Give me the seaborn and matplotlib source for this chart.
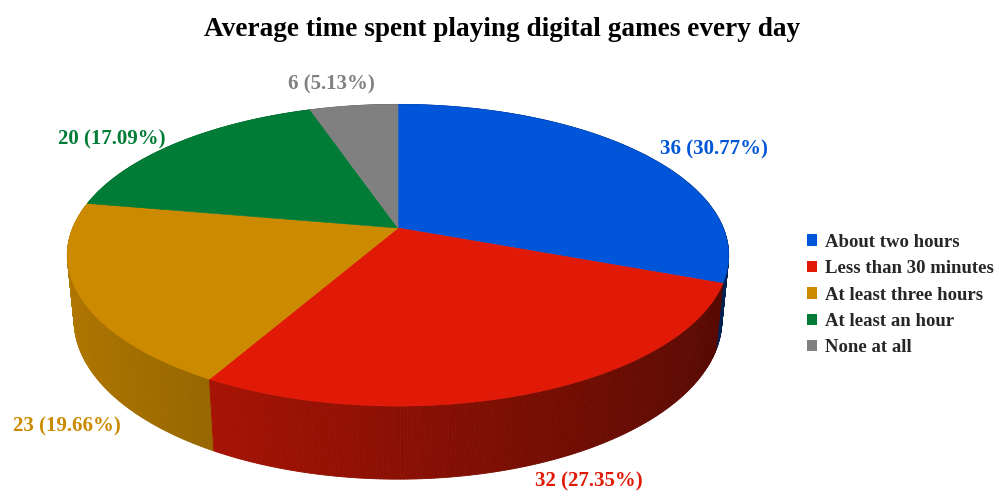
import numpy as np
import matplotlib
matplotlib.use("Agg")
import matplotlib.pyplot as plt
from matplotlib.collections import PolyCollection
from matplotlib.patches import Patch, Polygon
import seaborn as sns

categories = ["About two hours", "Less than 30 minutes", "At least three hours",
              "At least an hour", "None at all"]
counts = [36, 32, 23, 20, 6]
colors = ["#0055d8", "#e01a06", "#cc8a00", "#007c36", "#808080"]
title = "Average time spent playing digital games every day"

# label nudges (screen pixels, right / down) from each slice's rim midpoint
label_offsets = [(73, -3), (57, 88), (-13, 131), (-66, -3), (-22, -21)]

sns.set_theme(style="white")
plt.rcParams["font.family"] = ["Liberation Serif", "DejaVu Serif"]
palette = sns.color_palette(colors)

W, H = 995, 494
fig = plt.figure(figsize=(W / 100, H / 100), dpi=100)
ax = fig.add_axes([0, 0, 1, 1])
ax.set_xlim(0, W)
ax.set_ylim(H, 0)
ax.axis("off")

# simple perspective camera looking down on a unit disc
tilt = np.radians(26.66)
dist = 4.95
focal = 1610
cx, cy = 398, 228
thick = 0.2235


def project(x, y, z):
    x, y, z = np.asarray(x, float), np.asarray(y, float), np.asarray(z, float)
    depth = dist + y * np.cos(tilt) - z * np.sin(tilt)
    up = y * np.sin(tilt) + z * np.cos(tilt)
    return cx + focal * x / depth, cy - focal * up / depth, depth


total = sum(counts)
fracs = np.array(counts) / total
edges = 90 - 360 * np.concatenate([[0], np.cumsum(fracs)])  # clockwise from 12 o'clock

# outer walls, drawn back to front with side shading
polys, fcs, depths = [], [], []
for i in range(len(counts)):
    a0, a1 = edges[i], edges[i + 1]
    n = max(int(abs(a1 - a0) * 2), 2)
    ang = np.radians(np.linspace(a0, a1, n + 1))
    base = np.array(palette[i])
    for t0, t1 in zip(ang[:-1], ang[1:]):
        tt = np.array([t0, t1, t1, t0])
        zs = np.array([0, 0, -thick, -thick])
        px, py, dp = project(np.cos(tt), np.sin(tt), zs)
        polys.append(np.column_stack([px, py]))
        mid = 0.5 * (t0 + t1)
        shade = 0.62 - 0.25 * np.cos(mid)
        fcs.append(np.clip(base * shade, 0, 1))
        depths.append(dp.mean())
order = np.argsort(depths)[::-1]
ax.add_collection(PolyCollection([polys[k] for k in order],
                                 facecolors=[fcs[k] for k in order],
                                 edgecolors=[fcs[k] for k in order],
                                 linewidths=0.6))

# top faces
for i in range(len(counts)):
    a0, a1 = edges[i], edges[i + 1]
    n = max(int(abs(a1 - a0) * 2), 2)
    ang = np.radians(np.linspace(a0, a1, n + 1))
    xs = np.concatenate([[0], np.cos(ang)])
    ys = np.concatenate([[0], np.sin(ang)])
    px, py, _ = project(xs, ys, np.zeros_like(xs))
    ax.add_patch(Polygon(np.column_stack([px, py]), closed=True,
                         facecolor=palette[i], edgecolor=palette[i], linewidth=0.4))

# value labels
for i, v in enumerate(counts):
    mid = np.radians(0.5 * (edges[i] + edges[i + 1]))
    px, py, _ = project(np.cos(mid), np.sin(mid), 0.0)
    dx, dy = label_offsets[i]
    ax.annotate(f"{v} ({v / total * 100:.2f}%)", xy=(float(px), float(py)),
                xytext=(dx, -dy), textcoords="offset pixels",
                ha="center", va="center", fontsize=15, fontweight="bold",
                color=palette[i])

fig.text(502 / W, 1 - 30 / H, title, ha="center", va="center",
         fontsize=19.6, fontweight="bold", color="black")

handles = [Patch(facecolor=palette[i], edgecolor="none") for i in range(len(counts))]
fig.legend(handles, categories, loc="center left",
           bbox_to_anchor=(807 / W, 1 - 295 / H), frameon=False,
           prop=dict(weight="bold", size=13.5), handlelength=0.55,
           handleheight=0.55, handletextpad=0.4, labelspacing=0.5,
           borderpad=0, borderaxespad=0)

fig.savefig("out.png", dpi=100, facecolor="white")
